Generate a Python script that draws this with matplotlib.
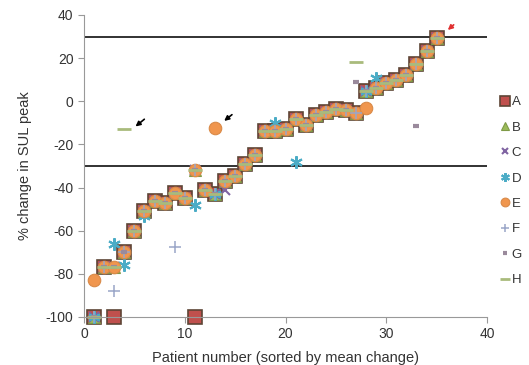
import matplotlib
matplotlib.use("Agg")
import matplotlib.pyplot as plt

plt.rcParams['font.family'] = ['Liberation Sans', 'DejaVu Sans']
plt.rcParams['axes.unicode_minus'] = False

# patients sorted by mean change
patient = list(range(1, 36))
mean_change = [-100, -77, -77, -70, -60, -51, -46, -47, -42.5, -45,
               -32, -41, -43, -37, -34.5, -29, -25, -14, -14, -13,
               -8, -11, -6.5, -5, -3.5, -4, -5.5, 5, 6, 8.5,
               10, 12, 17.5, 23.5, 29.5]

# values where a reader differs from the mean (patient: value)
a_diff = {3: -100, 11: -100}
b_diff = {}
c_diff = {14: -41}
d_diff = {3: -66, 4: -76, 6: -53, 11: -48, 19: -10, 21: -28, 29: 11}
e_diff = {1: -83, 13: -12.5, 28: -3}
f_diff = {3: -88, 9: -67.5}
g_diff = {27: 9, 33: -11.5}
h_diff = {4: -13, 27: 18}

labels = ["A", "B", "C", "D", "E", "F", "G", "H"]
diffs = [a_diff, b_diff, c_diff, d_diff, e_diff, f_diff, g_diff, h_diff]
styles = [
    dict(marker='s', ms=9.5, mfc='#c0504d', mec='#5e4536', mew=1.2),
    dict(marker='^', ms=8, mfc='#9bbb59', mec='#7f9a47', mew=0.8),
    dict(marker='x', ms=7, mec='#8064a2', mew=1.5),
    dict(marker=(6, 2, 0), ms=9, mec='#4bacc6', mew=1.5),
    dict(marker='o', ms=9, mfc='#f0964e', mec='#d98a48', mew=0.8),
    dict(marker='+', ms=8, mec='#9aa6c8', mew=1.1),
    dict(marker='_', ms=4, mec='#9a8a9c', mew=3),
    dict(marker='_', ms=10, mec='#a9bb7c', mew=2.0),
]

fig = plt.figure(figsize=(5.29, 3.65), dpi=100)
ax = fig.add_axes([84 / 529, 48 / 365, 403 / 529, 302 / 365])

for lab, diff, st in zip(labels, diffs, styles):
    yv = [diff.get(p, m) for p, m in zip(patient, mean_change)]
    ax.plot(patient, yv, ls='none', label=lab, clip_on=False, **st)

ax.axhline(30, color='#222222', lw=1.3, zorder=0)
ax.axhline(-30, color='#222222', lw=1.3, zorder=0)

# arrows marking outliers
ax.annotate("", xy=(4.9, -12.5), xytext=(6.2, -7.5),
            arrowprops=dict(arrowstyle='-|>', color='black', lw=1.2, mutation_scale=7))
ax.annotate("", xy=(13.7, -9.9), xytext=(14.9, -5.4),
            arrowprops=dict(arrowstyle='-|>', color='black', lw=1.2, mutation_scale=7))
ax.annotate("", xy=(35.9, 32.2), xytext=(36.9, 36.3),
            arrowprops=dict(arrowstyle='-|>', color='#e03030', lw=1.2, mutation_scale=7))

ax.set_xlim(0, 40)
ax.set_ylim(-100, 40)
ax.set_xticks(range(0, 41, 10))
ax.set_yticks(range(-100, 41, 20))
ax.spines['top'].set_visible(False)
ax.spines['right'].set_visible(False)
ax.spines['left'].set_color('#999999')
ax.spines['bottom'].set_color('#999999')
ax.tick_params(colors='#999999', labelcolor='#333333', labelsize=10, length=4, width=0.8)

ax.set_xlabel("Patient number (sorted by mean change)", fontsize=10.5, color='#333333', labelpad=7)
ax.set_ylabel("% change in SUL peak", fontsize=10.5, color='#333333', labelpad=10)

ax.legend(loc='upper left', bbox_to_anchor=(500 / 529, 1 - 96 / 365),
          bbox_transform=fig.transFigure, frameon=False, fontsize=9.5,
          handlelength=0.7, handletextpad=0.2, labelspacing=1.0,
          markerscale=0.7, borderpad=0, borderaxespad=0, labelcolor='#333333')

fig.savefig("out.png", dpi=100)
